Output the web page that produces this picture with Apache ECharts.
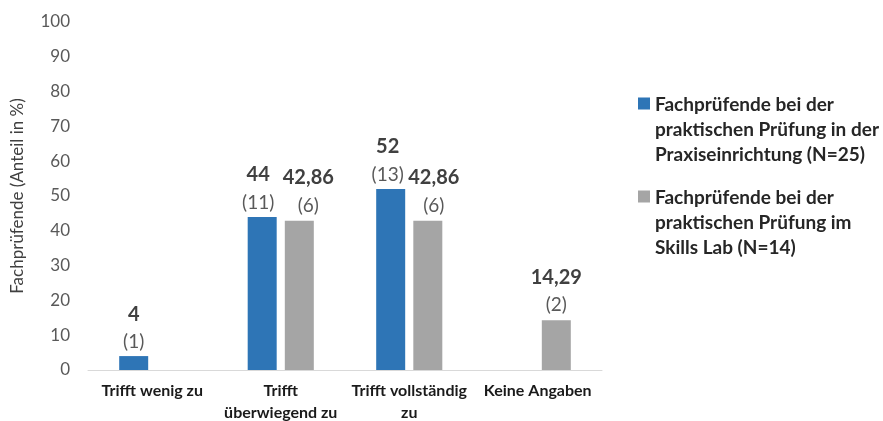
<!DOCTYPE html>
<html>
<head>
<meta charset="utf-8">
<script src="https://cdn.jsdelivr.net/npm/echarts@6/dist/echarts.min.js"></script>
<style>
  html, body { margin: 0; padding: 0; background: #fff; }
  #chart { width: 883px; height: 421px; }
</style>
</head>
<body>
<div id="chart"></div>
<script>
var categories = ['Trifft wenig zu', 'Trifft\nüberwiegend zu', 'Trifft vollständig\nzu', 'Keine Angaben'];
var seriesNames = [
  'Fachprüfende bei der\npraktischen Prüfung in der\nPraxiseinrichtung (N=25)',
  'Fachprüfende bei der\npraktischen Prüfung im\nSkills Lab (N=14)'
];
// percentages
var praxisValues = [4, 44, 52, null];
var skillsValues = [null, 42.86, 42.86, 14.29];
// absolute counts shown in brackets
var praxisCounts = [1, 11, 13, null];
var skillsCounts = [null, 6, 6, 2];

var font = 'Lato, "Open Sans", sans-serif';

// labels in the original were nudged sideways a bit where bars sit side by side
var praxisLabelShift = [0, -4, -3, 0];
var skillsLabelShift = [0, 9, 6, 0];

function fmt(v) {
  return String(v).replace('.', ',');
}

function buildData(values, shifts) {
  return values.map(function(v, i) {
    return { value: v, label: { offset: [shifts[i], 0] } };
  });
}

function makeLabel(counts, distance) {
  return {
    show: true,
    position: 'top',
    distance: distance,
    formatter: function(p) {
      if (p.value == null) return '';
      return '{v|' + fmt(p.value) + '}\n{n|(' + counts[p.dataIndex] + ')}';
    },
    rich: {
      v: { fontFamily: font, fontSize: 20, fontWeight: 'bold', color: '#404040', lineHeight: 28 },
      n: { fontFamily: font, fontSize: 19, color: '#595959', lineHeight: 28 }
    }
  };
}

var chart = echarts.init(document.getElementById('chart'), null, { renderer: 'canvas' });
chart.setOption({
  animation: false,
  textStyle: { fontFamily: font },
  color: ['#2e75b6', '#a5a5a5'],
  grid: { left: 88, right: 281, top: 22, bottom: 51, outerBoundsMode: 'none', containLabel: false },
  legend: {
    orient: 'vertical',
    left: 638,
    top: 92,
    padding: 0,
    itemWidth: 12,
    itemHeight: 75,
    itemGap: 18,
    icon: 'path://M0,0h0.01v0.01h-0.01Z M0,5.5h12v12h-12Z M0,74.99h0.01v0.01h-0.01Z',
    data: seriesNames,
    textStyle: { fontFamily: font, fontSize: 19, fontWeight: 'bold', color: '#262626', lineHeight: 25 }
  },
  xAxis: {
    type: 'category',
    data: categories,
    axisLine: { lineStyle: { color: '#d9d9d9', width: 1 } },
    axisTick: { show: false },
    axisLabel: {
      interval: 0,
      margin: 10,
      fontFamily: font,
      fontSize: 16,
      fontWeight: 'bold',
      color: '#1a1a1a',
      lineHeight: 22
    }
  },
  yAxis: {
    type: 'value',
    min: 0,
    max: 100,
    interval: 10,
    name: 'Fachprüfende (Anteil in %)',
    nameLocation: 'middle',
    nameGap: 62,
    nameTextStyle: { fontFamily: font, fontSize: 17, color: '#404040' },
    axisLine: { show: false },
    axisTick: { show: false },
    splitLine: { show: false },
    axisLabel: { fontFamily: font, fontSize: 17, color: '#595959', margin: 18 }
  },
  series: [
    {
      name: seriesNames[0],
      type: 'bar',
      data: buildData(praxisValues, praxisLabelShift),
      barWidth: 29,
      barGap: '28%',
      label: makeLabel(praxisCounts, 0)
    },
    {
      name: seriesNames[1],
      type: 'bar',
      data: buildData(skillsValues, skillsLabelShift),
      barWidth: 29,
      barGap: '28%',
      label: makeLabel(skillsCounts, 1)
    }
  ]
});
</script>
</body>
</html>
